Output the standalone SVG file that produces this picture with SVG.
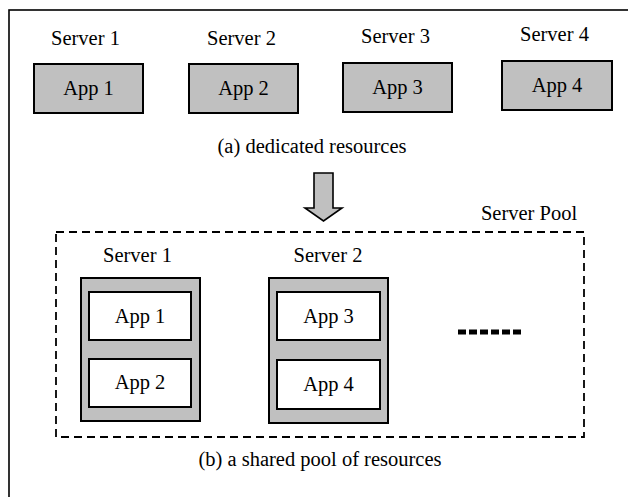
<svg xmlns="http://www.w3.org/2000/svg" width="628" height="497" viewBox="0 0 628 497">
<style>
text{font-family:"Liberation Serif","Times New Roman",serif;font-size:20.5px;fill:#000;text-anchor:middle}
.app{fill:#c0c0c0;stroke:#000;stroke-width:2}
.srv{fill:#c0c0c0;stroke:#000;stroke-width:2}
.in{fill:#fff;stroke:#000;stroke-width:2}
</style>
<rect x="9" y="10" width="640" height="520" fill="#fff" stroke="#000" stroke-width="1.6"/>
<g id="top-server1"><text x="85.5" y="45">Server 1</text><rect class="app" x="34" y="64" width="109" height="49"/><text x="88.5" y="95">App 1</text></g>
<g id="top-server2"><text x="241.5" y="45">Server 2</text><rect class="app" x="189" y="64" width="109" height="49"/><text x="243.5" y="95">App 2</text></g>
<g id="top-server3"><text x="395.5" y="43">Server 3</text><rect class="app" x="343" y="63" width="109" height="49"/><text x="397.5" y="94">App 3</text></g>
<g id="top-server4"><text x="554.5" y="41">Server 4</text><rect class="app" x="502" y="61" width="110" height="49"/><text x="557" y="92">App 4</text></g>
<text id="caption-a" x="312" y="153">(a) dedicated resources</text>
<g id="connectors"><polygon points="314,173 333,173 333,208 342,208 323.5,221 305,208 314,208" fill="#c0c0c0" stroke="#000" stroke-width="1.6" stroke-linejoin="miter"/></g>
<g id="server-pool"><rect x="56" y="232" width="528" height="205" fill="none" stroke="#000" stroke-width="1.8" stroke-dasharray="8 5"/><text x="529" y="220">Server Pool</text></g>
<g id="pool-server1"><text x="137.5" y="262">Server 1</text><rect class="srv" x="81" y="278" width="119" height="143"/>
<rect class="in" x="89" y="292" width="102" height="48"/><text x="140" y="323">App 1</text>
<rect class="in" x="89" y="359" width="102" height="48"/><text x="140" y="389">App 2</text></g>
<g id="pool-server2"><text x="328" y="262">Server 2</text><rect class="srv" x="269" y="278" width="119" height="145"/>
<rect class="in" x="277" y="292" width="103" height="48"/><text x="328.5" y="323">App 3</text>
<rect class="in" x="277" y="360" width="103" height="49"/><text x="328.5" y="391">App 4</text></g>
<line id="more" x1="458" y1="332" x2="522" y2="332" stroke="#000" stroke-width="5" stroke-dasharray="8 3"/>
<text id="caption-b" x="320" y="466">(b) a shared pool of resources</text>
</svg>
